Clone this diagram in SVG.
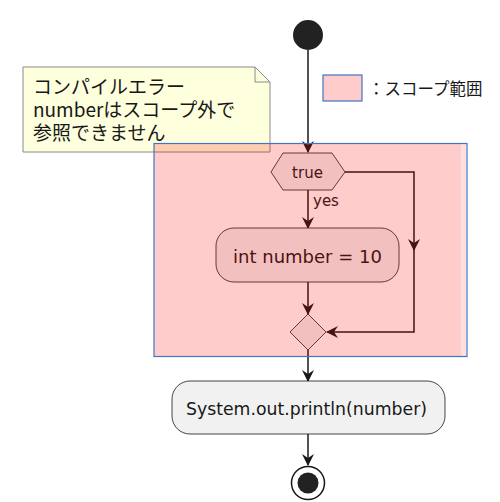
<svg xmlns="http://www.w3.org/2000/svg" width="500" height="502" viewBox="0 0 500 502">
<style>
.lat{font-family:"DejaVu Sans","Noto Sans CJK JP",sans-serif;fill:#181818}
.jp{font-family:"Noto Sans CJK JP","DejaVu Sans",sans-serif;fill:#181818}
.conn{stroke:#181818;stroke-width:1.5;fill:none}
.node{fill:#F1F1F1;stroke:#181818;stroke-width:0.8}
</style>
<defs>
<marker id="arr" markerUnits="userSpaceOnUse" viewBox="0 0 12 12" refX="11" refY="6" markerWidth="12" markerHeight="12" orient="auto">
<path d="M0,0 L12,6 L0,12 L4,6 Z" fill="#181818"/>
</marker>
</defs>
<rect width="500" height="502" fill="#FFFFFF"/>
<g id="start"><circle cx="308" cy="35" r="15" fill="#222222"/></g>
<g id="connectors">
<line class="conn" x1="308" y1="50" x2="308" y2="152" marker-end="url(#arr)"/>
<line class="conn" x1="308" y1="190" x2="308" y2="228" marker-end="url(#arr)"/>
<polyline class="conn" points="345,172 414,172 414,250"  marker-end="url(#arr)"/>
<polyline class="conn" points="414,245 414,332 327,332" marker-end="url(#arr)"/>
<line class="conn" x1="308" y1="282" x2="308" y2="314" marker-end="url(#arr)"/>
<line class="conn" x1="308" y1="350" x2="308" y2="381" marker-end="url(#arr)"/>
<line class="conn" x1="308" y1="434" x2="308" y2="465" marker-end="url(#arr)"/>
</g>
<g id="cond">
<polygon class="node" points="271,172 283,153 332,153 345,172 332,190 283,190"/>
<text class="lat" x="307.5" y="178" font-size="15" text-anchor="middle">true</text>
<text class="lat" x="313" y="206" font-size="15">yes</text>
</g>
<g id="action1">
<rect class="node" x="216" y="228" width="183" height="54" rx="18"/>
<text class="lat" x="233" y="263" font-size="17" textLength="149" lengthAdjust="spacingAndGlyphs">int number = 10</text>
</g>
<g id="merge"><polygon class="node" points="308,314 326,332 308,350 290,332"/></g>
<g id="action2">
<rect class="node" x="172" y="381" width="273" height="53" rx="18"/>
<text class="lat" x="186" y="415" font-size="17" textLength="241" lengthAdjust="spacingAndGlyphs">System.out.println(number)</text>
</g>
<g id="end">
<circle cx="308" cy="483" r="16.5" fill="#FFFFFF" stroke="#181818" stroke-width="1.5"/>
<circle cx="308" cy="483" r="10.5" fill="#222222"/>
</g>
<g id="note">
<path d="M23,67 L255,67 L270,82 L270,152 L23,152 Z" fill="#FEFFDD" stroke="#8A8A8A" stroke-width="1"/>
<path d="M255,67 L255,82 L270,82" fill="none" stroke="#8A8A8A" stroke-width="1"/>
<text class="jp" x="33" y="94" font-size="19">コンパイルエラー</text>
<text class="jp" x="33" y="117" font-size="19">numberはスコープ外で</text>
<text class="jp" x="33" y="140" font-size="19">参照できません</text>
</g>
<g id="scope">
<rect x="154" y="143.5" width="307" height="213" fill="#FF0000" fill-opacity="0.2"/>
<rect x="461" y="143.5" width="5" height="213" fill="#FF0000" fill-opacity="0.12"/>
<rect x="154" y="143.5" width="313" height="213" fill="none" stroke="#4472C4" stroke-width="1.2"/>
</g>
<g id="legend">
<rect x="323" y="75" width="39" height="26" fill="#FFCCCC" stroke="#4472C4" stroke-width="1.2"/>
<text class="jp" x="368" y="95" font-size="16.5">：スコープ範囲</text>
</g>
</svg>
